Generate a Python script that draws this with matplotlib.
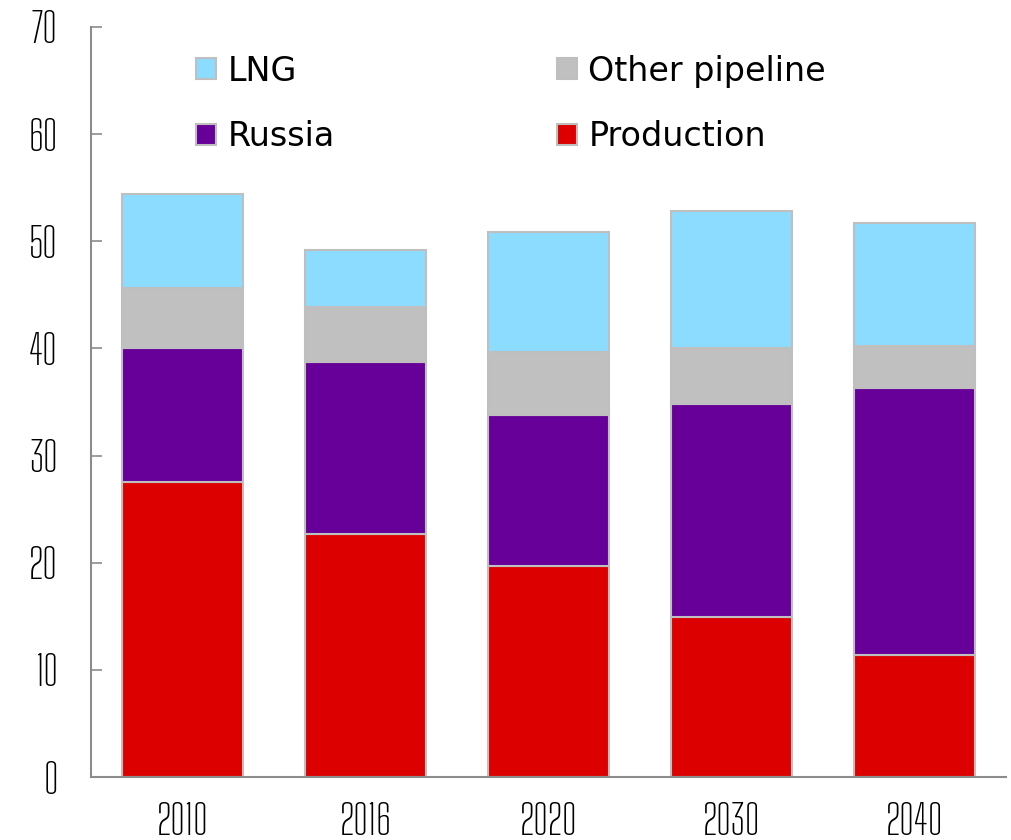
import matplotlib.pyplot as plt
import numpy as np

# Gas supply by source, bcm
years = ['2010', '2016', '2020', '2030', '2040']
production = [27.5, 22.7, 19.7, 14.9, 11.4]
russia = [12.55, 16.05, 14.1, 19.9, 24.9]
other_pipeline = [5.6, 5.15, 5.9, 5.25, 3.95]
lng = [8.75, 5.3, 11.2, 12.8, 11.45]

colors = {
    'Production': '#DD0000',
    'Russia': '#660099',
    'Other pipeline': '#C0C0C0',
    'LNG': '#8CDCFF',
}

fig = plt.figure(figsize=(10.12, 8.4), dpi=100)
ax = fig.add_axes([0.0899, 0.075, 0.904, 0.893])

x = np.arange(len(years))
width = 0.66
bottom = np.zeros(len(years))
bars = {}
for name, vals in [('Production', production), ('Russia', russia),
                   ('Other pipeline', other_pipeline), ('LNG', lng)]:
    bars[name] = ax.bar(x, vals, width, bottom=bottom, color=colors[name],
                        edgecolor='#BFBFBF', linewidth=1.5, label=name)
    bottom += np.array(vals)

ax.set_xlim(-0.5, len(years) - 0.5)
ax.set_ylim(0, 70)
ax.set_yticks(range(0, 71, 10))
ax.set_xticks(x)
ax.set_xticklabels(years)

for side in ['top', 'right']:
    ax.spines[side].set_visible(False)
for side in ['left', 'bottom']:
    ax.spines[side].set_color('#8C8C8C')
    ax.spines[side].set_linewidth(1.5)

ax.tick_params(axis='y', direction='in', length=8, width=1.2, color='#8C8C8C', pad=24)
ax.tick_params(axis='x', length=0, pad=18)
for lbl in ax.get_xticklabels() + ax.get_yticklabels():
    lbl.set_fontfamily('Big Shoulders Text')
    lbl.set_fontsize(30)
    lbl.set_fontweight('bold')

# legend laid out row-wise: LNG, Other pipeline / Russia, Production
handles = [bars['LNG'], bars['Russia'], bars['Other pipeline'], bars['Production']]
labels = ['LNG', 'Russia', 'Other pipeline', 'Production']
leg = ax.legend(handles, labels, ncol=2, loc='upper left', bbox_to_anchor=(0.115, 0.963),
                frameon=False, prop={'family': 'DejaVu Sans', 'size': 24},
                borderpad=0, borderaxespad=0,
                handlelength=0.6, handleheight=0.6, handletextpad=0.35,
                columnspacing=6.65, labelspacing=0.97)

fig.savefig('out.png', dpi=100)
